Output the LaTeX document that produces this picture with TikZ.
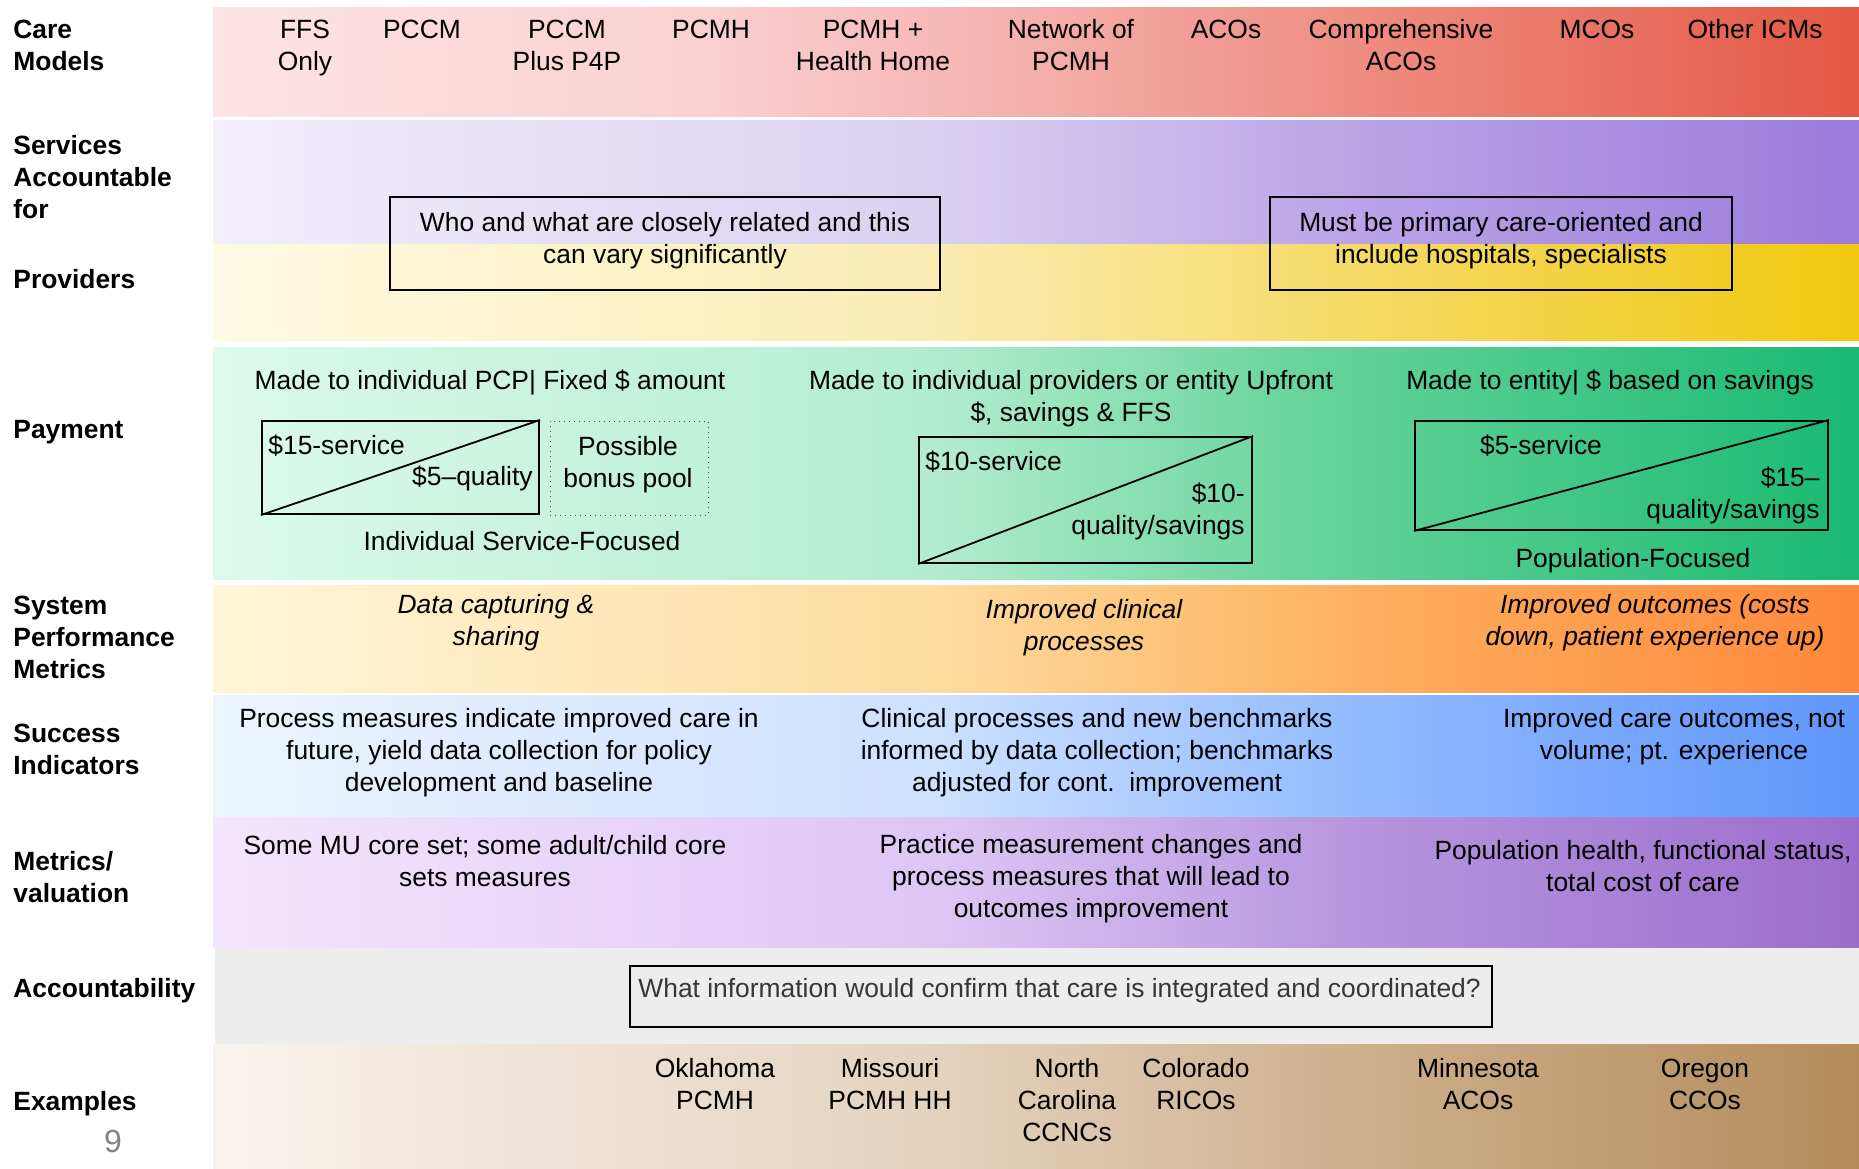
\documentclass[tikz,border=0pt]{standalone}
\usepackage{fontspec}
\setmainfont{Liberation Sans}
\usetikzlibrary{fit}
% colours
\definecolor{ca0}{RGB}{253,228,230}\definecolor{ca1}{RGB}{250,208,208}\definecolor{ca2}{RGB}{246,185,184}\definecolor{ca3}{RGB}{238,140,128}\definecolor{ca4}{RGB}{228,88,68}
\definecolor{sv0}{RGB}{242,238,250}\definecolor{sv1}{RGB}{218,208,240}\definecolor{sv2}{RGB}{185,163,230}\definecolor{sv3}{RGB}{155,123,220}
\definecolor{pr0}{RGB}{254,250,228}\definecolor{pr1}{RGB}{250,236,178}\definecolor{pr2}{RGB}{245,218,100}\definecolor{pr3}{RGB}{240,200,15}
\definecolor{pa0}{RGB}{221,250,236}\definecolor{pa1}{RGB}{178,236,208}\definecolor{pa2}{RGB}{105,212,155}\definecolor{pa3}{RGB}{25,185,115}
\definecolor{sy0}{RGB}{255,246,218}\definecolor{sy1}{RGB}{253,220,158}\definecolor{sy2}{RGB}{254,175,95}\definecolor{sy3}{RGB}{255,136,58}
\definecolor{su0}{RGB}{236,244,253}\definecolor{su1}{RGB}{205,224,255}\definecolor{su2}{RGB}{145,186,255}\definecolor{su3}{RGB}{95,150,250}
\definecolor{me0}{RGB}{243,230,253}\definecolor{me1}{RGB}{222,198,244}\definecolor{me2}{RGB}{182,148,222}\definecolor{me3}{RGB}{155,110,205}
\definecolor{ex0}{RGB}{248,243,238}\definecolor{ex1}{RGB}{228,210,190}\definecolor{ex2}{RGB}{205,175,140}\definecolor{ex3}{RGB}{180,140,90}
\definecolor{acc}{RGB}{237,237,237}
\definecolor{acctext}{RGB}{55,55,55}
\definecolor{pagenum}{RGB}{130,130,130}
\pgfdeclarehorizontalshading{shcare}{100bp}{color(0bp)=(ca0); color(25bp)=(ca0); color(40bp)=(ca1); color(47bp)=(ca2); color(60bp)=(ca3); color(75bp)=(ca4); color(100bp)=(ca4)}
\pgfdeclarehorizontalshading{shserv}{100bp}{color(0bp)=(sv0); color(25bp)=(sv0); color(47bp)=(sv1); color(60bp)=(sv2); color(75bp)=(sv3); color(100bp)=(sv3)}
\pgfdeclarehorizontalshading{shprov}{100bp}{color(0bp)=(pr0); color(25bp)=(pr0); color(47bp)=(pr1); color(60bp)=(pr2); color(75bp)=(pr3); color(100bp)=(pr3)}
\pgfdeclarehorizontalshading{shpay}{100bp}{color(0bp)=(pa0); color(25bp)=(pa0); color(47bp)=(pa1); color(58bp)=(pa2); color(75bp)=(pa3); color(100bp)=(pa3)}
\pgfdeclarehorizontalshading{shsys}{100bp}{color(0bp)=(sy0); color(25bp)=(sy0); color(47bp)=(sy1); color(60bp)=(sy2); color(75bp)=(sy3); color(100bp)=(sy3)}
\pgfdeclarehorizontalshading{shsucc}{100bp}{color(0bp)=(su0); color(25bp)=(su0); color(47bp)=(su1); color(60bp)=(su2); color(75bp)=(su3); color(100bp)=(su3)}
\pgfdeclarehorizontalshading{shmet}{100bp}{color(0bp)=(me0); color(25bp)=(me0); color(47bp)=(me1); color(60bp)=(me2); color(75bp)=(me3); color(100bp)=(me3)}
\pgfdeclarehorizontalshading{shex}{100bp}{color(0bp)=(ex0); color(25bp)=(ex0); color(47bp)=(ex1); color(60bp)=(ex2); color(75bp)=(ex3); color(100bp)=(ex3)}
\tikzset{
  txt/.style={inner sep=0pt, align=center, font=\fontsize{13.2}{16}\selectfont},
  itxt/.style={txt, font=\fontsize{13.2}{16}\selectfont\itshape},
  lbl/.style={inner sep=0pt, align=left, anchor=west, font=\fontsize{13.2}{16}\selectfont\bfseries},
  framebox/.style={draw=black, line width=1pt, inner sep=0pt},
  dotbox/.style={draw=black!70, dotted, line width=0.5pt, inner sep=0pt},
  diag/.style={draw=black, line width=0.9pt}
}
\begin{document}
\begin{tikzpicture}[x=0.5pt,y=-0.5pt]
\useasboundingbox[fill=white] (0,0) rectangle (1859,1168);
% bands
\shade[shading=shcare] (213,7) rectangle (1859,116);
\shade[shading=shserv] (213,120) rectangle (1859,244);
\shade[shading=shprov] (213,244) rectangle (1859,340);
\shade[shading=shpay]  (213,347) rectangle (1859,579);
\shade[shading=shsys]  (213,585) rectangle (1859,692);
\shade[shading=shsucc] (213,695) rectangle (1859,817);
\shade[shading=shmet]  (213,817) rectangle (1859,948);
\fill[acc] (215,948) rectangle (1859,1044);
\shade[shading=shex]   (213,1044) rectangle (1859,1168);

% left labels
\node[lbl] (lcare) at (13,45) {Care\\Models};
\node[lbl] (lserv) at (13,177) {Services\\Accountable\\for};
\node[lbl] (lprov) at (13,279) {Providers};
\node[lbl] (lpay) at (13,432) {Payment};
\node[lbl] (lsys) at (13,637) {System\\Performance\\Metrics};
\node[lbl] (lsucc) at (13,749) {Success\\Indicators};
\node[lbl] (lmet) at (13,877) {Metrics/\\valuation};
\node[lbl] (lacc) at (13,991) {Accountability};
\node[lbl] (lex) at (13,1104) {Examples};
\node[inner sep=0pt, text=pagenum, font=\fontsize{16}{18}\selectfont] (pnum) at (113,1141) {9};

% care models
\node[txt] (m1) at (305,48) {FFS\\Only};
\node[txt] (m2) at (422,29) {PCCM};
\node[txt] (m3) at (567,45) {PCCM\\Plus P4P};
\node[txt] (m4) at (711,29) {PCMH};
\node[txt] (m5) at (873,45) {PCMH +\\Health Home};
\node[txt] (m6) at (1071,45) {Network of\\PCMH};
\node[txt] (m7) at (1226,29) {ACOs};
\node[txt] (m8) at (1401,45) {Comprehensive\\ACOs};
\node[txt] (m9) at (1597,29) {MCOs};
\node[txt] (m10) at (1755,29) {Other ICMs};

% services / providers boxes
\node[framebox, fit={(390,197) (940,290)}] (sbox1) {};
\node[txt] (st1) at (665,241) {Who and what are closely related and this\\can vary significantly};
\node[framebox, fit={(1270,197) (1732,290)}] (sbox2) {};
\node[txt] (st2) at (1501,241) {Must be primary care-oriented and\\include hospitals, specialists};

% payment
\node[txt] (p1) at (490,383) {Made to individual PCP| Fixed \$ amount};
\node[framebox, fit={(262,421) (539,514)}] (pboxA) {};
\draw[diag] (pboxA.south west) -- (pboxA.north east);
\node[txt, anchor=west] (pa1t) at (268,446) {\$15-service};
\node[txt, anchor=east] (pa2t) at (533,478) {\$5–quality};
\node[dotbox, fit={(550,421) (708,515)}] (pboxB) {};
\node[txt] (pbt) at (628,465) {Possible\\bonus pool};
\node[txt] (p1f) at (522,541) {Individual Service-Focused};

\node[txt] (p2) at (1071,399) {Made to individual providers or entity Upfront\\\$, savings \& FFS};
\node[framebox, fit={(919,437) (1252,563)}] (pboxC) {};
\draw[diag] (pboxC.south west) -- (pboxC.north east);
\node[txt, anchor=west] (pc1t) at (925,462) {\$10-service};
\node[txt, anchor=east, align=right] (pc2t) at (1245,511) {\$10-\\quality/savings};

\node[txt] (p3) at (1610,383) {Made to entity| \$ based on savings};
\node[framebox, fit={(1415,421) (1828,530)}] (pboxD) {};
\draw[diag] (pboxD.south west) -- (pboxD.north east);
\node[txt] (pd1t) at (1541,446) {\$5-service};
\node[txt, anchor=east, align=right] (pd2t) at (1820,495) {\$15–\\quality/savings};
\node[txt] (p3f) at (1633,561) {Population-Focused};

% system performance
\node[itxt] (y1) at (496,623) {Data capturing \&\\sharing};
\node[itxt] (y2) at (1084,628) {Improved clinical\\processes};
\node[itxt] (y3) at (1655,623) {Improved outcomes (costs\\down, patient experience up)};

% success indicators
\node[txt] (s1) at (499,753) {Process measures indicate improved care in\\future, yield data collection for policy\\development and baseline};
\node[txt] (s2) at (1097,753) {Clinical processes and new benchmarks\\informed by data collection; benchmarks\\adjusted for cont.\ \ improvement};
\node[txt] (s3) at (1674,737) {Improved care outcomes, not\\volume; pt. experience};

% metrics
\node[txt] (e1) at (485,861) {Some MU core set; some adult/child core\\sets measures};
\node[txt] (e2) at (1091,879) {Practice measurement changes and\\process measures that will lead to\\outcomes improvement};
\node[txt] (e3) at (1643,866) {Population health, functional status,\\total cost of care};

% accountability
\node[framebox, fit={(630,966) (1492,1027)}] (abox) {};
\node[txt, anchor=west, text=acctext] (at) at (638,991) {What information would confirm that care is integrated and coordinated?};

% examples
\node[txt] (x1) at (715,1084) {Oklahoma\\PCMH};
\node[txt] (x2) at (890,1084) {Missouri\\PCMH HH};
\node[txt] (x3) at (1067,1100) {North\\Carolina\\CCNCs};
\node[txt] (x4) at (1196,1084) {Colorado\\RICOs};
\node[txt] (x5) at (1478,1084) {Minnesota\\ACOs};
\node[txt] (x6) at (1705,1084) {Oregon\\CCOs};
\end{tikzpicture}
\end{document}
